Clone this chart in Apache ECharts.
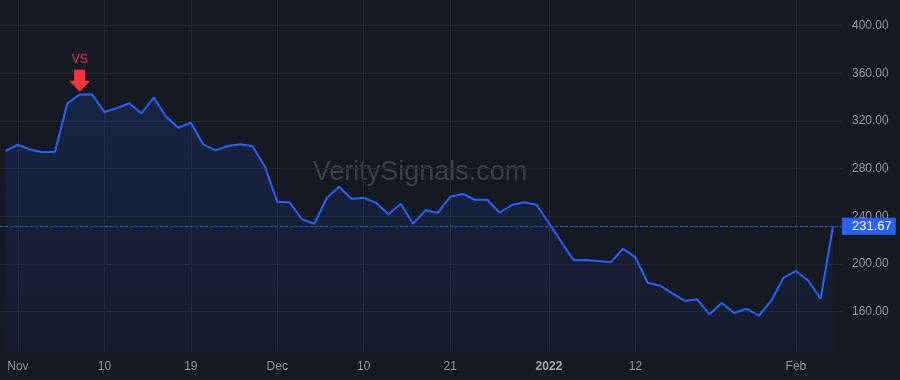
<!DOCTYPE html>
<html>
<head>
<meta charset="utf-8">
<script src="https://cdn.jsdelivr.net/npm/echarts@6/dist/echarts.min.js"></script>
<style>
html,body{margin:0;padding:0;background:#151924;}
#chart{width:900px;height:380px;}
</style>
</head>
<body>
<div id="chart"></div>
<script>
const dates = [
 '2021-10-29',
 '2021-11-01','2021-11-02','2021-11-03','2021-11-04','2021-11-05',
 '2021-11-08','2021-11-09','2021-11-10','2021-11-11','2021-11-12',
 '2021-11-15','2021-11-16','2021-11-17','2021-11-18','2021-11-19',
 '2021-11-22','2021-11-23','2021-11-24','2021-11-26',
 '2021-11-29','2021-11-30',
 '2021-12-01','2021-12-02','2021-12-03',
 '2021-12-06','2021-12-07','2021-12-08','2021-12-09','2021-12-10',
 '2021-12-13','2021-12-14','2021-12-15','2021-12-16','2021-12-17',
 '2021-12-20','2021-12-21','2021-12-22','2021-12-23',
 '2021-12-27','2021-12-28','2021-12-29','2021-12-30','2021-12-31',
 '2022-01-03','2022-01-04','2022-01-05','2022-01-06','2022-01-07',
 '2022-01-10','2022-01-11','2022-01-12','2022-01-13','2022-01-14',
 '2022-01-18','2022-01-19','2022-01-20','2022-01-21',
 '2022-01-24','2022-01-25','2022-01-26','2022-01-27','2022-01-28',
 '2022-01-31',
 '2022-02-01','2022-02-02','2022-02-03','2022-02-04'
];
const prices = [
 294.8, 300.0, 295.9, 293.7, 294.2, 334.8, 342.0, 342.3, 327.5, 330.6,
 334.8, 326.4, 339.5, 323.5, 314.3, 318.5, 300.4, 295.3, 299.0, 300.4,
 298.7, 281.6, 252.2, 251.7, 237.5, 233.8, 255.1, 264.8, 254.8, 255.4,
 251.4, 241.7, 250.3, 233.8, 245.0, 242.8, 256.4, 258.7, 253.9, 253.9,
 243.0, 249.5, 251.7, 249.7, 234.2, 218.6, 203.1, 203.4, 202.5, 201.4,
 212.8, 205.6, 184.3, 181.8, 175.4, 169.0, 170.4, 157.8, 167.3, 158.9,
 162.5, 156.6, 169.2, 188.5, 194.1, 186.0, 170.9, 231.67
];
const tickDates = ['2021-11-01','2021-11-10','2021-11-19','2021-12-01','2021-12-10','2021-12-21','2022-01-03','2022-01-12','2022-02-01'];
const tickLabels = ['Nov','10','19','Dec','10','21','2022','12','Feb'];
const yTicks = [160, 200, 240, 280, 320, 360, 400];
const lastPrice = 231.67;
const signalDate = '2021-11-08';
const signalText = 'VS';
const watermark = 'VeritySignals.com';

const Y_MIN = 126.2, Y_MAX = 421.4;
const FONT = "'Liberation Sans', Arial, sans-serif";
const tickSet = {};
tickDates.forEach((d, i) => { tickSet[d] = tickLabels[i]; });
const isTick = (idx, val) => tickSet[val] !== undefined;
const sigIdx = dates.indexOf(signalDate);

const chart = echarts.init(document.getElementById('chart'), null, {renderer: 'canvas'});
chart.setOption({
  backgroundColor: '#151924',
  animation: false,
  textStyle: {fontFamily: FONT},
  grid: [
    {left: 0, right: 58, top: 0, bottom: 28},
    {left: 5.6, right: 67, top: 0, bottom: 28}
  ],
  xAxis: [
    {type: 'value', gridIndex: 0, min: 0, max: 1, show: false},
    {
      type: 'category', gridIndex: 1, data: dates, boundaryGap: false,
      axisLine: {show: false},
      axisTick: {show: false, interval: isTick},
      splitLine: {show: true, interval: isTick, lineStyle: {color: '#242834', width: 1}},
      axisLabel: {
        interval: isTick, margin: 9, fontSize: 12, color: '#8f929b', fontFamily: FONT,
        formatter: v => tickSet[v] === '2022' ? '{b|2022}' : (tickSet[v] || ''),
        rich: {b: {fontWeight: 'bold', color: '#a3a6af', fontSize: 12, fontFamily: FONT}}
      }
    }
  ],
  yAxis: [
    {
      type: 'value', gridIndex: 0, position: 'right', min: Y_MIN, max: Y_MAX,
      axisLine: {show: false},
      axisTick: {show: false, customValues: yTicks},
      splitLine: {show: true, lineStyle: {color: '#242834', width: 1}},
      axisLabel: {customValues: yTicks, margin: 10, fontSize: 12, color: '#8f929b', fontFamily: FONT,
        formatter: v => Number(v).toFixed(2)}
    },
    {type: 'value', gridIndex: 1, min: Y_MIN, max: Y_MAX, show: false, splitLine: {show: false}}
  ],
  graphic: [{
    type: 'text', x: 420, y: 173, silent: true, z: 0,
    style: {text: watermark, fontSize: 27, fontFamily: FONT, fill: 'rgba(125,129,141,0.38)',
      align: 'center', verticalAlign: 'middle'}
  }],
  series: [
    {
      type: 'line', xAxisIndex: 0, yAxisIndex: 0, data: [], symbol: 'none', silent: true,
      markLine: {
        silent: true, symbol: ['none', 'none'],
        lineStyle: {color: '#2962ff', width: 1, type: [3, 2]},
        label: {
          show: true, position: 'end', distance: 0,
          formatter: p => Number(p.value).toFixed(2),
          backgroundColor: '#2962ff', color: '#ffffff', fontSize: 13, fontFamily: FONT,
          lineHeight: 15, padding: [1, 4, 1, 10]
        },
        data: [{yAxis: lastPrice}]
      }
    },
    {
      type: 'line', xAxisIndex: 1, yAxisIndex: 1, data: prices, symbol: 'none',
      lineStyle: {color: '#2962ff', width: 2},
      itemStyle: {color: '#2962ff'},
      areaStyle: {
        origin: 'start',
        color: new echarts.graphic.LinearGradient(0, 0, 0, 1, [
          {offset: 0, color: 'rgba(41,98,255,0.22)'},
          {offset: 1, color: 'rgba(41,98,255,0.05)'}
        ])
      },
      markPoint: {
        silent: true,
        symbol: 'path://M5,0 L16,0 L16,11 L21,11 L10.5,22 L0,11 L5,11 Z',
        symbolSize: [21, 22],
        symbolOffset: [0, -14],
        itemStyle: {color: '#f23645'},
        label: {show: true, position: 'top', distance: 4, formatter: signalText,
          color: '#f23645', fontSize: 12, fontFamily: FONT},
        data: [{coord: [dates[sigIdx], prices[sigIdx]]}]
      }
    }
  ]
});
</script>
</body>
</html>
